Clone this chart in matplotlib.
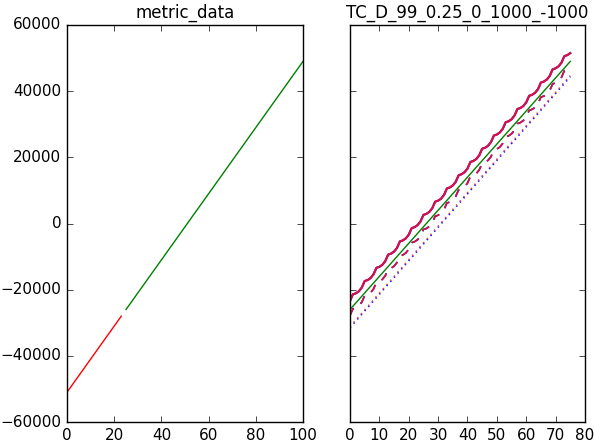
import numpy as np
import matplotlib
matplotlib.use('Agg')
import matplotlib.pyplot as plt

plt.style.use('classic')

# left panel: metric_data
LEFT_TRAIN_X = [0, 23]
LEFT_TRAIN_Y = [-51000, -28000]
LEFT_TEST_X = [25, 100]
LEFT_TEST_Y = [-26000, 49000]

# right panel: TC_D_99_0.25_0_1000_-1000
RIGHT_X = list(range(76))
ACTUAL = [-23400, -21400, -21100, -20500, -19400, -17400, -17100, -16500,
          -15400, -13400, -13100, -12500, -11400, -9400, -9100, -8500,
          -7400, -5400, -5100, -4500, -3400, -1400, -1100, -500,
          600, 2600, 2900, 3500, 4600, 6600, 6900, 7500,
          8600, 10600, 10900, 11500, 12600, 14600, 14900, 15500,
          16600, 18600, 18900, 19500, 20600, 22600, 22900, 23500,
          24600, 26600, 26900, 27500, 28600, 30600, 30900, 31500,
          32600, 34600, 34900, 35500, 36600, 38600, 38900, 39500,
          40600, 42600, 42900, 43500, 44600, 46600, 46900, 47500,
          48600, 50600, 50900, 51500]
SEASONAL = [-27800, -25800, -25500, -24900, -23800, -21800, -21500, -20900,
            -19800, -17800, -17500, -16900, -15800, -13800, -13500, -12900,
            -11800, -9800, -9500, -8900, -7800, -5800, -5500, -4900,
            -3800, -1800, -1500, -900, 200, 2200, 2500, 3100,
            4200, 6200, 6500, 7100, 8200, 10200, 10500, 11100,
            12200, 14200, 14500, 15100, 16200, 18200, 18500, 19100,
            20200, 22200, 22500, 23100, 24200, 26200, 26500, 27100,
            28200, 30200, 30500, 31100, 32200, 34200, 34500, 35100,
            36200, 38200, 38500, 39100, 40200, 42200, 42500, 43100,
            44200, 46200, 46500, 47100]
TREND_X = [0, 75]
TREND_Y = [-26000, 49000]
LOWER_BLUE_Y = [-31500, 44400]
LOWER_RED_Y = [-31200, 44700]

fig = plt.figure(figsize=(5.94, 4.47), dpi=100, facecolor='white')
ax1 = fig.add_axes([0.1128, 0.0559, 0.3973, 0.8882])
ax2 = fig.add_axes([0.5892, 0.0559, 0.3956, 0.8882], sharey=ax1)

ax1.plot(LEFT_TRAIN_X, LEFT_TRAIN_Y, color='red', lw=1.0)
ax1.plot(LEFT_TEST_X, LEFT_TEST_Y, color='green', lw=1.0)
ax1.set_xlim(0, 100)
ax1.set_ylim(-60000, 60000)
ax1.set_xticks(np.arange(0, 101, 20))
ax1.set_yticks(np.arange(-60000, 60001, 20000))
ax1.set_title('metric_data', fontsize=12)

ax2.plot(RIGHT_X, ACTUAL, color='blue', lw=1.5)
ax2.plot(RIGHT_X, ACTUAL, color='#e0103a', lw=1.5)
ax2.plot(RIGHT_X, SEASONAL, color='blue', lw=1.2, ls='--')
ax2.plot(RIGHT_X, SEASONAL, color='#e0103a', lw=1.2, ls='--')
ax2.plot(TREND_X, LOWER_BLUE_Y, color='blue', lw=1.2, ls=':')
ax2.plot(TREND_X, LOWER_RED_Y, color='#e0406a', lw=1.2, ls=':')
ax2.plot(TREND_X, TREND_Y, color='green', lw=1.0)
ax2.set_xlim(0, 80)
ax2.set_xticks(np.arange(0, 81, 10))
ax2.set_title('TC_D_99_0.25_0_1000_-1000', fontsize=12)
plt.setp(ax2.get_yticklabels(), visible=False)

for ax in (ax1, ax2):
    ax.set_facecolor('white')
    ax.tick_params(labelsize=11)

fig.savefig('out.png', dpi=100, facecolor='white')
